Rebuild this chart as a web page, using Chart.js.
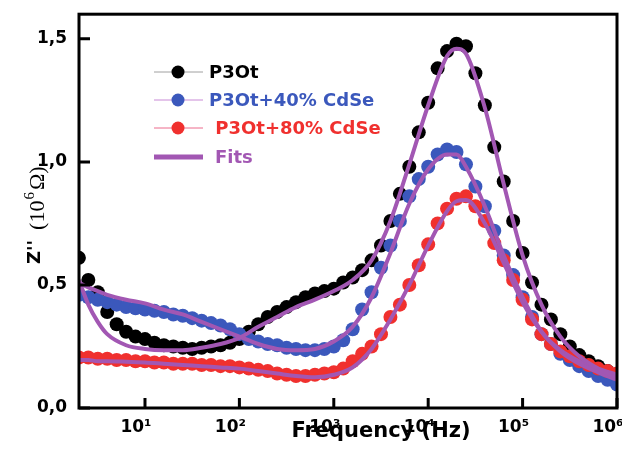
<!DOCTYPE html>
<html>
<head>
<meta charset="utf-8">
<script src="https://cdn.jsdelivr.net/npm/chart.js"></script>
<style>
    html, body { margin: 0; padding: 0; background: #fff; overflow: hidden; }
    #wrap { width: 640px; height: 456px; }
</style>
</head>
<body>
<div id="wrap"><canvas id="myChart"></canvas></div>
<script>
// log10(f) of the measured points
const logFreq = [0.3, 0.4, 0.5, 0.6, 0.7, 0.8, 0.9, 1.0, 1.1, 1.2, 1.3, 1.4, 1.5, 1.6, 1.7, 1.8, 1.9,
    2.0, 2.1, 2.2, 2.3, 2.4, 2.5, 2.6, 2.7, 2.8, 2.9, 3.0, 3.1, 3.2, 3.3, 3.4, 3.5, 3.6, 3.7, 3.8, 3.9,
    4.0, 4.1, 4.2, 4.3, 4.4, 4.5, 4.6, 4.7, 4.8, 4.9, 5.0, 5.1, 5.2, 5.3, 5.4, 5.5, 5.6, 5.7, 5.8, 5.9, 6.0];

// Z'' in 10^6 ohm
const p3ot = [0.61, 0.52, 0.47, 0.39, 0.34, 0.31, 0.29, 0.28, 0.265, 0.255, 0.25, 0.245, 0.24, 0.245, 0.25, 0.255, 0.265,
    0.28, 0.31, 0.34, 0.37, 0.39, 0.41, 0.43, 0.45, 0.465, 0.475, 0.485, 0.51, 0.53, 0.56, 0.60, 0.66, 0.76, 0.87, 0.98, 1.12,
    1.24, 1.38, 1.45, 1.48, 1.47, 1.36, 1.23, 1.06, 0.92, 0.76, 0.63, 0.51, 0.42, 0.36, 0.30, 0.25, 0.215, 0.19, 0.17, 0.15, 0.13];
const p3otCdse40 = [0.46, 0.45, 0.44, 0.43, 0.42, 0.41, 0.405, 0.40, 0.395, 0.39, 0.38, 0.375, 0.365, 0.355, 0.345, 0.335, 0.32,
    0.30, 0.28, 0.27, 0.26, 0.255, 0.245, 0.24, 0.235, 0.235, 0.24, 0.25, 0.275, 0.32, 0.40, 0.47, 0.57, 0.66, 0.76, 0.86, 0.93,
    0.98, 1.03, 1.05, 1.04, 0.99, 0.90, 0.82, 0.72, 0.62, 0.54, 0.45, 0.37, 0.30, 0.26, 0.22, 0.195, 0.17, 0.15, 0.13, 0.115, 0.095];
const p3otCdse80 = [0.205, 0.205, 0.20, 0.20, 0.195, 0.195, 0.19, 0.19, 0.185, 0.185, 0.18, 0.18, 0.18, 0.175, 0.175, 0.17, 0.17,
    0.165, 0.16, 0.155, 0.15, 0.14, 0.135, 0.13, 0.13, 0.135, 0.14, 0.145, 0.16, 0.19, 0.22, 0.25, 0.30, 0.37, 0.42, 0.50, 0.58,
    0.665, 0.75, 0.81, 0.85, 0.86, 0.82, 0.76, 0.67, 0.60, 0.52, 0.44, 0.36, 0.30, 0.26, 0.23, 0.21, 0.19, 0.175, 0.16, 0.15, 0.14];

// fitted curves
const fitLogFreq = [0.3, 0.4, 0.5, 0.6, 0.8, 1.0, 1.2, 1.4, 1.6, 1.8, 2.0, 2.2, 2.4, 2.6, 2.8, 3.0,
    3.2, 3.4, 3.6, 3.8, 4.0, 4.2, 4.3, 4.4, 4.6, 4.8, 5.0, 5.2, 5.4, 5.6, 5.8, 6.0];
const fitP3ot = [0.52, 0.42, 0.35, 0.30, 0.255, 0.24, 0.235, 0.235, 0.245, 0.26, 0.285, 0.33, 0.37, 0.41, 0.44, 0.475,
    0.52, 0.60, 0.76, 0.99, 1.23, 1.43, 1.46, 1.44, 1.22, 0.91, 0.62, 0.42, 0.29, 0.21, 0.16, 0.12];
const fitCdse40 = [0.51, 0.49, 0.475, 0.46, 0.44, 0.425, 0.40, 0.38, 0.35, 0.32, 0.29, 0.26, 0.24, 0.235, 0.24, 0.27,
    0.33, 0.45, 0.63, 0.83, 0.97, 1.03, 1.03, 0.98, 0.82, 0.62, 0.45, 0.31, 0.23, 0.18, 0.145, 0.115];
const fitCdse80 = [0.195, 0.195, 0.19, 0.19, 0.188, 0.185, 0.18, 0.175, 0.17, 0.165, 0.16, 0.15, 0.14, 0.13, 0.125, 0.135,
    0.165, 0.24, 0.36, 0.50, 0.66, 0.80, 0.84, 0.845, 0.75, 0.59, 0.43, 0.31, 0.235, 0.19, 0.16, 0.135];

const seriesNames = ["P3Ot", "P3Ot+40% CdSe", " P3Ot+80% CdSe", "Fits"];
const xTicks = [10, 100, 1000, 10000, 100000, 1000000];
const xTickLabels = ["10¹", "10²", "10³", "10⁴", "10⁵", "10⁶"];
const yTicks = [0, 0.5, 1.0, 1.5];

const BLACK = "#000000";
const BLUE = "#3b58bc";
const RED = "#f0302e";
const PURPLE = "#a257b3";

function toPoints(logs, vals) {
    return logs.map((e, i) => ({ x: Math.pow(10, e), y: vals[i] }));
}

function dotSet(label, logs, vals, color, order) {
    return {
        label: label,
        data: toPoints(logs, vals),
        showLine: false,
        pointRadius: 7,
        pointBorderWidth: 0,
        pointBackgroundColor: color,
        backgroundColor: color,
        order: order,
    };
}

function fitSet(logs, vals) {
    return {
        label: "Fits",
        data: toPoints(logs, vals),
        showLine: true,
        pointRadius: 0,
        borderColor: PURPLE,
        borderWidth: 4,
        cubicInterpolationMode: "monotone",
        order: 0,
    };
}

// frame + inward tick marks
const framePlugin = {
    id: "frame",
    afterDatasetsDraw(chart) {
        const ctx = chart.ctx;
        const a = chart.chartArea;
        const xs = chart.scales.x;
        const ys = chart.scales.y;
        ctx.save();
        ctx.strokeStyle = "#000";
        ctx.lineWidth = 3;
        ctx.strokeRect(a.left, a.top, a.right - a.left, a.bottom - a.top);
        ctx.beginPath();
        for (let v of xTicks) {
            const px = xs.getPixelForValue(v);
            ctx.moveTo(px, a.bottom);
            ctx.lineTo(px, a.bottom - 10);
        }
        for (let v of yTicks) {
            const py = ys.getPixelForValue(v);
            ctx.moveTo(a.left, py);
            ctx.lineTo(a.left + 11, py);
        }
        ctx.stroke();
        ctx.restore();
    },
};

const legendRows = [
    { text: seriesNames[0], color: BLACK, line: "#a0a0a0", y: 72, tx: 209 },
    { text: seriesNames[1], color: BLUE, line: "#c98ad6", y: 100, tx: 209 },
    { text: seriesNames[2], color: RED, line: "#ec6a8c", y: 128, tx: 209 },
    { text: seriesNames[3], color: PURPLE, line: PURPLE, y: 157, tx: 215, fit: true },
];

const labelsPlugin = {
    id: "labels",
    afterDraw(chart) {
        const ctx = chart.ctx;
        ctx.save();
        // legend
        ctx.textBaseline = "middle";
        ctx.textAlign = "left";
        ctx.font = 'bold 18px "DejaVu Sans"';
        for (let row of legendRows) {
            ctx.beginPath();
            ctx.strokeStyle = row.line;
            ctx.lineWidth = row.fit ? 5 : 1;
            ctx.moveTo(154, row.y);
            ctx.lineTo(203, row.y);
            ctx.stroke();
            if (!row.fit) {
                ctx.beginPath();
                ctx.fillStyle = row.color;
                ctx.arc(178, row.y, 6.5, 0, Math.PI * 2);
                ctx.fill();
            }
            ctx.fillStyle = row.color;
            ctx.fillText(row.text, row.tx, row.y + 1);
        }

        // x title
        ctx.fillStyle = "#000";
        ctx.textAlign = "center";
        ctx.textBaseline = "alphabetic";
        ctx.font = 'bold 21px "DejaVu Sans"';
        ctx.fillText("Frequency (Hz)", 381, 437);

        // y title, rotated
        ctx.translate(40, 264);
        ctx.rotate(-Math.PI / 2);
        ctx.textAlign = "left";
        ctx.font = 'bold 18px "DejaVu Sans"';
        ctx.fillText("Z''", 0, 0);
        let x = ctx.measureText("Z''").width + 10;
        ctx.font = '22px "Liberation Serif"';
        ctx.fillText("(10", x, 4);
        x += ctx.measureText("(10").width + 1;
        ctx.font = '15px "Liberation Serif"';
        ctx.fillText("6", x, -6);
        x += ctx.measureText("6").width + 2;
        ctx.font = '22px "Liberation Serif"';
        ctx.fillText("Ω)", x, 4);
        ctx.restore();
    },
};

const data = {
    datasets: [
        fitSet(fitLogFreq, fitP3ot),
        fitSet(fitLogFreq, fitCdse40),
        fitSet(fitLogFreq, fitCdse80),
        dotSet(seriesNames[2], logFreq, p3otCdse80, RED, 1),
        dotSet(seriesNames[1], logFreq, p3otCdse40, BLUE, 2),
        dotSet(seriesNames[0], logFreq, p3ot, BLACK, 3),
    ],
};

const tickFont = { family: "DejaVu Sans", weight: "bold", size: 17 };

const config = {
    type: "scatter",
    data: data,
    options: {
        responsive: true,
        maintainAspectRatio: false,
        animation: false,
        layout: { padding: { top: 12, right: 23, left: 0, bottom: 0 } },
        plugins: {
            legend: { display: false },
            tooltip: { enabled: false },
        },
        scales: {
            x: {
                type: "logarithmic",
                min: 2,
                max: 1000000,
                grid: { display: false },
                border: { display: false },
                afterBuildTicks: (scale) => {
                    scale.ticks = xTicks.map((v) => ({ value: v }));
                },
                afterFit: (scale) => {
                    scale.height = 48;
                },
                ticks: {
                    autoSkip: false,
                    maxRotation: 0,
                    padding: 1,
                    labelOffset: -9,
                    color: "#000",
                    font: tickFont,
                    callback: (value, index) => xTickLabels[index],
                },
            },
            y: {
                min: 0,
                max: 1.6,
                grid: { display: false },
                border: { display: false },
                afterBuildTicks: (scale) => {
                    scale.ticks = yTicks.map((v) => ({ value: v }));
                },
                afterFit: (scale) => {
                    scale.width = 79;
                },
                ticks: {
                    padding: 4,
                    color: "#000",
                    font: tickFont,
                    callback: (value) => value.toFixed(1).replace(".", ","),
                },
            },
        },
    },
    plugins: [framePlugin, labelsPlugin],
};

let myChart = new Chart(document.getElementById("myChart"), config);
</script>
</body>
</html>
